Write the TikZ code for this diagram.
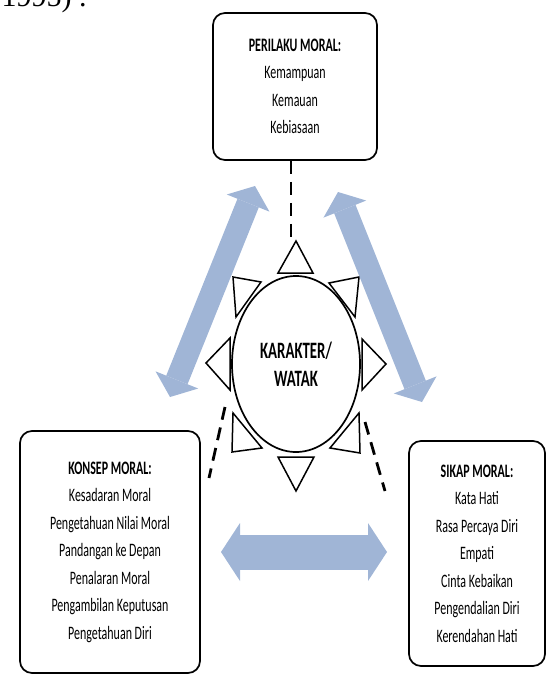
\documentclass[tikz,border=0pt]{standalone}
\usepackage{fontspec}
\setmainfont{Carlito}[FakeStretch=0.63]
\newfontfamily\bookfont{Liberation Serif}
\usetikzlibrary{arrows.meta, shapes.geometric}
\definecolor{arrowblue}{RGB}{160,181,214}
\tikzset{
every node/.style={font=\fontsize{19}{27.5}\selectfont, align=center}, % text of all boxes
moralbox/.style={draw, line width=1.7pt, rounded corners=12pt, inner sep=0pt}, % the three moral boxes
spike/.style={draw, line width=1.5pt, fill=white, line join=miter}, % triangles round the ellipse
dashline/.style={line width=2.8pt, dash pattern=on 13pt off 8pt}, % dashed links
bigarrow/.style={draw=arrowblue, line width=#1, {Triangle[width=2*#1,length=0.8*#1,line width=0pt]}-{Triangle[width=2*#1,length=0.8*#1,line width=0pt]}}, % blue double arrows
}

\begin{document}
\begin{tikzpicture}[x=1pt, y=-1pt]
    \useasboundingbox (0,0) rectangle (546,674);
    \node[anchor=base west, font=\bookfont\fontsize{30}{30}\selectfont] (prev) at (-2,7) {1995) .};

    \node[moralbox, minimum width=164pt, minimum height=147pt] (perilaku) at (295,86.5)
        {\textbf{PERILAKU MORAL:}\\Kemampuan\\Kemauan\\Kebiasaan};
    \node[moralbox, minimum width=180pt, minimum height=242pt] (konsep) at (110,552)
        {\textbf{KONSEP MORAL:}\\Kesadaran Moral\\Pengetahuan Nilai Moral\\Pandangan ke Depan\\Penalaran Moral\\Pengambilan Keputusan\\Pengetahuan Diri};
    \node[moralbox, minimum width=136pt, minimum height=225pt] (sikap) at (477,553.5)
        {\textbf{SIKAP MORAL:}\\Kata Hati\\Rasa Percaya Diri\\Empati\\Cinta Kebaikan\\Pengendalian Diri\\Kerendahan Hati};

    \node[draw, ellipse, line width=1.7pt, minimum width=128pt, minimum height=176pt, inner sep=0pt,
        font=\bfseries\fontsize{23.5}{28}\selectfont] (karakter) at (296,364) {KARAKTER/\\WATAK};

    % triangles round the ellipse
    \foreach \p/\q/\r in {{(278,273)}/{(313,273)}/{(296,241)}, {(278,457)}/{(314,457)}/{(296,491)},
        {(230,338)}/{(230,390)}/{(206,363)}, {(362,339)}/{(362,390)}/{(386,364)},
        {(233,277)}/{(261,282)}/{(236,317)}, {(329,283)}/{(359,277)}/{(355,317)},
        {(233,413)}/{(262,448)}/{(232,452)}, {(359,413)}/{(330,448)}/{(360,453)}}
        \draw[spike] \p -- \q -- \r -- cycle;

    % dashed links
    \coordinate (toptip) at (291,240);
    \coordinate (leftstart) at (225,407);
    \coordinate (leftend) at (209,478);
    \coordinate (rightstart) at (365,422);
    \coordinate (rightend) at (385,491);
    \draw[dashline] (perilaku.south -| toptip) -- (toptip);
    \draw[dashline] (leftstart) -- (leftend);
    \draw[dashline] (rightstart) -- (rightend);

    % blue arrows
    \coordinate (lefttop) at (255,186);
    \coordinate (leftbottom) at (170,397);
    \coordinate (righttop) at (338,192);
    \coordinate (rightbottom) at (422,402);
    \coordinate (midleft) at (221,552);
    \coordinate (midright) at (387,552);
    \draw[bigarrow=23pt] (lefttop) -- (leftbottom);
    \draw[bigarrow=23pt] (righttop) -- (rightbottom);
    \draw[draw=arrowblue, line width=35pt, {Triangle[width=58pt,length=19pt,line width=0pt]}-{Triangle[width=58pt,length=19pt,line width=0pt]}] (midleft) -- (midright);
\end{tikzpicture}
\end{document}
